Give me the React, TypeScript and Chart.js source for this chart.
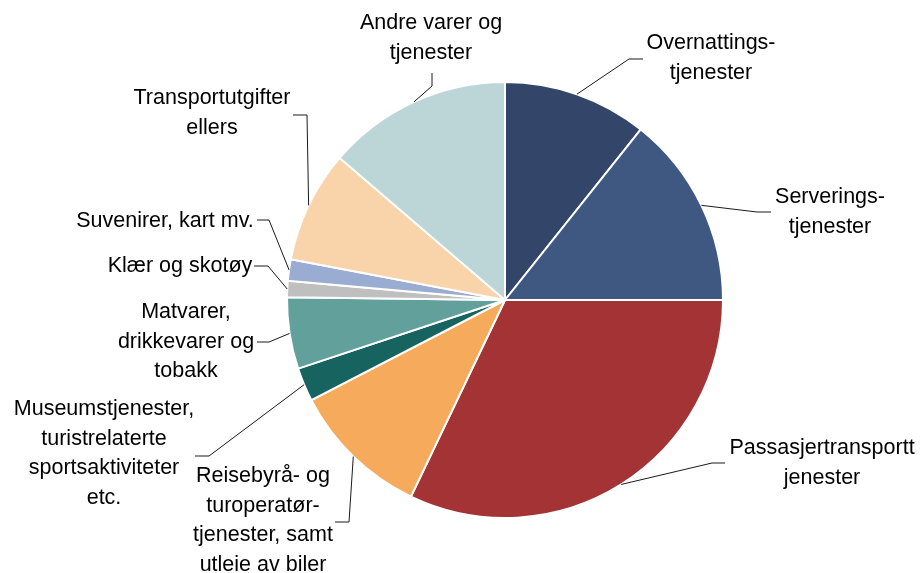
import React, { useEffect, useRef } from "react";
import { Chart, registerables } from "chart.js";

Chart.register(...registerables);

// ---- Data ----
const categories = [
  "Overnattingstjenester",
  "Serveringstjenester",
  "Passasjertransporttjenester",
  "Reisebyrå- og turoperatørtjenester, samt utleie av biler",
  "Museumstjenester, turistrelaterte sportsaktiviteter etc.",
  "Matvarer, drikkevarer og tobakk",
  "Klær og skotøy",
  "Suvenirer, kart mv.",
  "Transportutgifter ellers",
  "Andre varer og tjenester",
];

const shares = [10.7, 14.3, 32.1, 10.3, 2.5, 5.3, 1.2, 1.6, 8.3, 13.7];

const labelLines = [
  ["Overnattings-", "tjenester"],
  ["Serverings-", "tjenester"],
  ["Passasjertransportt", "jenester"],
  ["Reisebyrå- og", "turoperatør-", "tjenester, samt", "utleie av biler"],
  ["Museumstjenester,", "turistrelaterte", "sportsaktiviteter", "etc."],
  ["Matvarer,", "drikkevarer og", "tobakk"],
  ["Klær og skotøy"],
  ["Suvenirer, kart mv."],
  ["Transportutgifter", "ellers"],
  ["Andre varer og", "tjenester"],
];

// ---- Style ----
const colors = [
  "#33466A",
  "#3F5882",
  "#A33335",
  "#F6AA5C",
  "#16635F",
  "#62A09C",
  "#BFBFBF",
  "#9AACD2",
  "#F9D3AA",
  "#BCD5D7",
];

// label layout: text centre x, first baseline y, leader start (sx,sy), elbow (ex,ey)
const labelLayout = [
  { tx: 711, ty: 49, sx: 643, sy: 59, ex: 629, ey: 59 },
  { tx: 830, ty: 203, sx: 771, sy: 212, ex: 757, ey: 212 },
  { tx: 822, ty: 454, sx: 725, sy: 463, ex: 712, ey: 463 },
  { tx: 263, ty: 482, sx: 335, sy: 522, ex: 349, ey: 522 },
  { tx: 104, ty: 415, sx: 195, sy: 456, ex: 209, ey: 456 },
  { tx: 186, ty: 318, sx: 257, sy: 342, ex: 269, ey: 342 },
  { tx: 180, ty: 272, sx: 254, sy: 266, ex: 268, ey: 266 },
  { tx: 165, ty: 227, sx: 257, sy: 220, ex: 269, ey: 220 },
  { tx: 212, ty: 104, sx: 293, sy: 115, ex: 307, ey: 115 },
  { tx: 431, ty: 29, sx: 432, sy: 73, ex: 432, ey: 86 },
];

const FONT = '21.5px "Liberation Sans", Arial, sans-serif';
const LINE_H = 29.5;

const labelPlugin = {
  id: "pieLabels",
  afterDraw(chart: any) {
    const ctx = chart.ctx;
    const meta = chart.getDatasetMeta(0);
    ctx.save();
    ctx.font = FONT;
    ctx.fillStyle = "#000000";
    ctx.textAlign = "center";
    ctx.textBaseline = "alphabetic";
    meta.data.forEach((arc: any, i: number) => {
      const L = labelLayout[i];
      const lines = labelLines[i];
      lines.forEach((ln, j) => {
        ctx.fillText(ln, L.tx, L.ty + j * LINE_H);
      });
      const mid = (arc.startAngle + arc.endAngle) / 2;
      const r = arc.outerRadius;
      const px = arc.x + r * Math.cos(mid);
      const py = arc.y + r * Math.sin(mid);
      ctx.beginPath();
      ctx.strokeStyle = "#1a1a1a";
      ctx.lineWidth = 1;
      ctx.moveTo(L.sx, L.sy);
      ctx.lineTo(L.ex, L.ey);
      ctx.lineTo(px, py);
      ctx.stroke();
    });
    ctx.restore();
  },
};

export default function App() {
  const ref = useRef<HTMLCanvasElement | null>(null);
  useEffect(() => {
    if (!ref.current) return;
    const chart = new Chart(ref.current, {
      type: "pie",
      data: {
        labels: categories,
        datasets: [
          {
            data: shares,
            backgroundColor: colors,
            borderColor: "#FFFFFF",
            borderWidth: 2,
          },
        ],
      },
      options: {
        responsive: false,
        animation: false,
        radius: 218,
        layout: { padding: { left: 288, right: 202, top: 83, bottom: 56 } },
        plugins: {
          legend: { display: false },
          tooltip: { enabled: false },
        },
      } as any,
      plugins: [labelPlugin],
    });
    return () => chart.destroy();
  }, []);
  return (
    <div style={{ position: "fixed", left: 0, top: 0, width: 924, height: 573, background: "#fff" }}>
      <canvas ref={ref} width={924} height={573} style={{ width: 924, height: 573, display: "block" }} />
    </div>
  );
}
